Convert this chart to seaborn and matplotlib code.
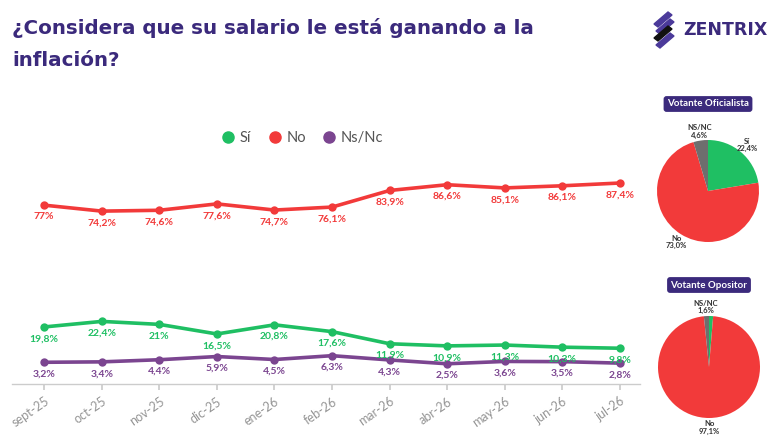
import matplotlib
matplotlib.use('Agg')
import matplotlib.pyplot as plt
from matplotlib.lines import Line2D
from matplotlib.patches import Polygon
import seaborn as sns
import pandas as pd

# Data
meses = ['sept-25', 'oct-25', 'nov-25', 'dic-25', 'ene-26', 'feb-26',
         'mar-26', 'abr-26', 'may-26', 'jun-26', 'jul-26']
si = [19.8, 22.4, 21.0, 16.5, 20.8, 17.6, 11.9, 10.9, 11.3, 10.3, 9.8]
no = [77.0, 74.2, 74.6, 77.6, 74.7, 76.1, 83.9, 86.6, 85.1, 86.1, 87.4]
nsnc = [3.2, 3.4, 4.4, 5.9, 4.5, 6.3, 4.3, 2.5, 3.6, 3.5, 2.8]
si_labels = ['19,8%', '22,4%', '21%', '16,5%', '20,8%', '17,6%', '11,9%', '10,9%', '11,3%', '10,3%', '9,8%']
no_labels = ['77%', '74,2%', '74,6%', '77,6%', '74,7%', '76,1%', '83,9%', '86,6%', '85,1%', '86,1%', '87,4%']
nsnc_labels = ['3,2%', '3,4%', '4,4%', '5,9%', '4,5%', '6,3%', '4,3%', '2,5%', '3,6%', '3,5%', '2,8%']

pie_categorias = ['Sí', 'No', 'NS/NC']
oficialista = [22.4, 73.0, 4.6]
oficialista_labels = ['Sí\n22,4%', 'No\n73,0%', 'NS/NC\n4,6%']
opositor = [1.3, 97.1, 1.6]
opositor_labels = ['', 'No\n97,1%', 'NS/NC\n1,6%']

VERDE = '#1fbf63'
ROJO = '#f23a3a'
VIOLETA = '#7b4590'
GRIS = '#6e6e6e'
TITULO = '#3b2a7c'

sns.set_theme(style='white')
plt.rcParams['font.family'] = ['Lato', 'DejaVu Sans']

df = pd.DataFrame({
    'mes': meses * 3,
    'valor': si + no + nsnc,
    'resp': ['Sí'] * len(meses) + ['No'] * len(meses) + ['Ns/Nc'] * len(meses),
})

W, H = 780, 438
fig = plt.figure(figsize=(W / 100, H / 100), dpi=100)
fig.patch.set_facecolor('white')

# main line chart
ax = fig.add_axes([12 / W, 1 - 384 / H, 628 / W, 264 / H])
sns.lineplot(data=df, x='mes', y='valor', hue='resp', sort=False,
             palette={'Sí': VERDE, 'No': ROJO, 'Ns/Nc': VIOLETA},
             marker='o', markersize=6, markeredgewidth=0, linewidth=2.6,
             legend=False, ax=ax)
ax.set_ylim(-7, 117)
ax.set_xlim(-0.56, 10.35)
ax.set_xlabel('')
ax.set_ylabel('')
ax.set_yticks([])
for s in ['top', 'right', 'left']:
    ax.spines[s].set_visible(False)
ax.spines['bottom'].set_color('#cccccc')
ax.spines['bottom'].set_linewidth(1)
ax.tick_params(axis='x', bottom=True, length=4, color='#cccccc', labelsize=9,
               labelcolor='#959595', pad=4)
plt.setp(ax.get_xticklabels(), rotation=35, ha='right', rotation_mode='anchor')

for vals, labs, col in [(no, no_labels, ROJO), (si, si_labels, VERDE), (nsnc, nsnc_labels, VIOLETA)]:
    for i, (v, l) in enumerate(zip(vals, labs)):
        ax.annotate(l, (i, v), xytext=(0, -8.5), textcoords='offset points',
                    ha='center', va='center', fontsize=7.5, color=col, fontweight='bold')

handles = [Line2D([], [], marker='o', linestyle='', color=c, markersize=8)
           for c in (VERDE, ROJO, VIOLETA)]
ax.legend(handles, ['Sí', 'No', 'Ns/Nc'], loc='center', bbox_to_anchor=(0.462, 0.93),
          ncol=3, frameon=False, fontsize=10.5, handletextpad=0.3, columnspacing=1.1,
          handlelength=1.0, labelcolor='#555555')

# title
titulo_font = ['DejaVu Sans']
fig.text(12 / W, 1 - 28 / H, '¿Considera que su salario le está ganando a la',
         fontsize=14.3, fontweight='bold', color=TITULO, va='center', ha='left',
         family=titulo_font)
fig.text(12 / W, 1 - 60 / H, 'inflación?',
         fontsize=14.3, fontweight='bold', color=TITULO, va='center', ha='left',
         family=titulo_font)

# logo
for k in range(4):
    y0 = 16 + k * 7
    x0 = 654 + (k % 2) * 2
    col = '#111111' if k == 2 else '#4b3a9a'
    pts = [(x0, y0 + 8), (x0 + 14, y0 - 4), (x0 + 18, y0 - 1), (x0 + 4, y0 + 11)]
    fig.add_artist(Polygon([(px / W, 1 - py / H) for px, py in pts],
                           closed=True, transform=fig.transFigure, color=col))
fig.text(683 / W, 1 - 30 / H, 'ZENTRIX', fontsize=12.5, fontweight='bold', color=TITULO,
         va='center', ha='left', family=titulo_font)


def dibujar_torta(cx, cy, valores, etiquetas, titulo, ty):
    r = 51
    size = 2.5 * r
    pax = fig.add_axes([(cx - size / 2) / W, 1 - (cy + size / 2) / H, size / W, size / H])
    wedges, texts = pax.pie(valores, labels=etiquetas, colors=[VERDE, ROJO, GRIS],
                            startangle=90, counterclock=False, labeldistance=1.18,
                            textprops=dict(fontsize=5.5, color='#333333', fontweight='bold'),
                            wedgeprops=dict(linewidth=0))
    for t in texts:
        t.set_ha('center')
        t.set_va('center')
        t.set_linespacing(1.1)
    pax.set_xlim(-1.25, 1.25)
    pax.set_ylim(-1.25, 1.25)
    pax.set_aspect('equal')
    pax.axis('off')
    fig.text(cx / W, 1 - ty / H, titulo, fontsize=7, fontweight='bold', color='white',
             ha='center', va='center',
             bbox=dict(boxstyle='round,pad=0.35,rounding_size=0.3', fc=TITULO, ec='none'))


dibujar_torta(708, 191, oficialista, oficialista_labels, 'Votante Oficialista', 104)
dibujar_torta(709, 367, opositor, opositor_labels, 'Votante Opositor', 285)

fig.savefig('out.png', dpi=100)
